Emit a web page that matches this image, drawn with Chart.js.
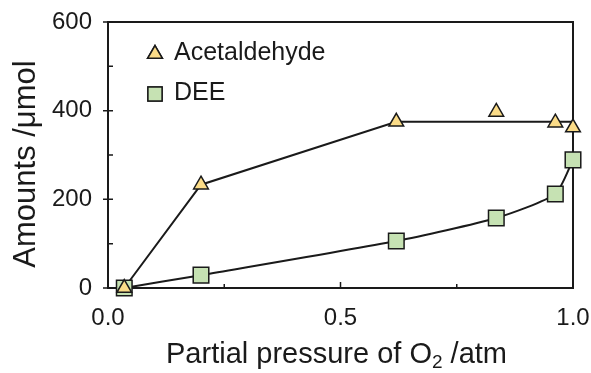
<!DOCTYPE html>
<html>
<head>
<meta charset="utf-8">
<script src="https://cdn.jsdelivr.net/npm/chart.js@4/dist/chart.umd.min.js"></script>
<style>
  html, body { margin: 0; padding: 0; background: #fff; }
  #wrap { width: 591px; height: 373px; }
</style>
</head>
<body>
<div id="wrap"><canvas id="chart"></canvas></div>
<script>
// values
const acetPressure = [0.035, 0.2, 0.62, 0.835, 0.962, 1.0];
const acetAmount = [0, 233, 375, 397, 373, 362];
const acetGuideX = [0.035, 0.2, 0.62, 1.0];
const acetGuideY = [0, 233, 375, 375];
const deePressure = [0.035, 0.2, 0.62, 0.835, 0.962, 1.0];
const deeAmount = [0, 29, 106, 158, 212, 289];
const xTickValues = [0, 0.5, 1.0];
const xMinorValues = [0.25, 0.75];
const yTickValues = [0, 200, 400, 600];
const yMinorValues = [100, 300, 500];

const FONT = '"Liberation Sans", Arial, sans-serif';
const INK = '#1a1a1a';
const YELLOW = '#fbdc88';
const GREEN = '#c6e2b3';

const pts = (xs, ys) => xs.map((x, i) => ({ x: x, y: ys[i] }));

// frame + ticks drawn under the data, titles and legend on top
const framePlugin = {
    id: 'frame',
    beforeDatasetsDraw(chart) {
        const { ctx, chartArea: a, scales } = chart;
        ctx.save();
        ctx.strokeStyle = INK;
        ctx.lineWidth = 2;
        ctx.strokeRect(a.left, a.top, a.right - a.left, a.bottom - a.top);
        ctx.lineWidth = 1.5;
        ctx.beginPath();
        yTickValues.forEach(v => {
            const y = scales.y.getPixelForValue(v);
            ctx.moveTo(a.left - 5, y); ctx.lineTo(a.left + 5, y);
        });
        yMinorValues.forEach(v => {
            const y = scales.y.getPixelForValue(v);
            ctx.moveTo(a.left, y); ctx.lineTo(a.left + 5, y);
        });
        xTickValues.forEach(v => {
            const x = scales.x.getPixelForValue(v);
            ctx.moveTo(x, a.bottom); ctx.lineTo(x, a.bottom - 6);
        });
        xMinorValues.forEach(v => {
            const x = scales.x.getPixelForValue(v);
            ctx.moveTo(x, a.bottom); ctx.lineTo(x, a.bottom - 4);
        });
        ctx.stroke();
        ctx.restore();
    },
    afterDraw(chart) {
        const { ctx, chartArea: a } = chart;
        ctx.save();
        ctx.fillStyle = INK;
        ctx.textBaseline = 'alphabetic';

        // x title with subscript
        const big = '29px ' + FONT, small = '19px ' + FONT;
        const p1 = 'Partial pressure of O', p2 = '2', p3 = ' /atm';
        ctx.font = big;
        const w1 = ctx.measureText(p1).width, w3 = ctx.measureText(p3).width;
        ctx.font = small;
        const w2 = ctx.measureText(p2).width;
        const x = (a.left + a.right) / 2 - (w1 + w2 + w3) / 2 - 4;
        const base = 363;
        ctx.font = big;
        ctx.fillText(p1, x, base);
        ctx.font = small;
        ctx.fillText(p2, x + w1, base + 5);
        ctx.font = big;
        ctx.fillText(p3, x + w1 + w2, base);

        // y title
        ctx.font = '31px ' + FONT;
        ctx.translate(26, 164);
        ctx.rotate(-Math.PI / 2);
        ctx.textAlign = 'center';
        ctx.textBaseline = 'middle';
        ctx.fillText('Amounts /\u03bcmol', 0, 0);
        ctx.restore();

        // legend
        ctx.save();
        ctx.strokeStyle = INK;
        ctx.lineWidth = 1.5;
        const lx = a.left + 47;
        Chart.helpers.drawPoint(ctx, { pointStyle: 'triangle', radius: 8.5, borderWidth: 1.5 }, lx, 54);
        ctx.fillStyle = YELLOW;
        ctx.fill(); ctx.stroke();
        ctx.fillStyle = GREEN;
        Chart.helpers.drawPoint(ctx, { pointStyle: 'rect', radius: 10, borderWidth: 1.5 }, lx, 94);
        ctx.fill(); ctx.stroke();
        ctx.fillStyle = INK;
        ctx.font = '25px ' + FONT;
        ctx.textBaseline = 'middle';
        ctx.fillText('Acetaldehyde', lx + 19, 53);
        ctx.fillText('DEE', lx + 19, 93);
        ctx.restore();
    }
};

const ctx = document.getElementById('chart').getContext('2d');
new Chart(ctx, {
    type: 'scatter',
    data: {
        datasets: [
            {
                label: 'Acetaldehyde',
                data: pts(acetPressure, acetAmount),
                pointStyle: 'triangle',
                pointRadius: 8.5,
                backgroundColor: YELLOW,
                borderColor: INK,
                borderWidth: 1.5,
                clip: false,
                order: 1
            },
            {
                label: 'DEE',
                data: pts(deePressure, deeAmount),
                pointStyle: 'rect',
                pointRadius: 11,
                backgroundColor: GREEN,
                borderColor: INK,
                borderWidth: 1.5,
                clip: false,
                order: 2
            },
            {
                label: 'acet guide',
                data: pts(acetGuideX, acetGuideY),
                showLine: true,
                pointRadius: 0,
                borderColor: INK,
                borderWidth: 2,
                clip: false,
                order: 3
            },
            {
                label: 'dee guide',
                data: pts(deePressure, deeAmount),
                showLine: true,
                pointRadius: 0,
                borderColor: INK,
                borderWidth: 2,
                tension: 0.2,
                clip: false,
                order: 4
            }
        ]
    },
    options: {
        responsive: true,
        maintainAspectRatio: false,
        animation: false,
        layout: { padding: { top: 22, right: 18, left: 0, bottom: 0 } },
        scales: {
            x: {
                type: 'linear',
                min: 0,
                max: 1,
                afterBuildTicks: s => { s.ticks = xTickValues.map(v => ({ value: v })); },
                afterFit: s => { s.height = 85; s.paddingLeft = 0; s.paddingRight = 0; },
                grid: { display: false },
                border: { display: false },
                ticks: {
                    color: INK,
                    padding: 8,
                    font: { family: FONT, size: 24 },
                    callback: v => v.toFixed(1)
                }
            },
            y: {
                min: 0,
                max: 600,
                afterBuildTicks: s => { s.ticks = yTickValues.map(v => ({ value: v })); },
                afterFit: s => { s.width = 108; s.paddingTop = 0; s.paddingBottom = 0; },
                grid: { display: false },
                border: { display: false },
                ticks: {
                    color: INK,
                    padding: 8,
                    font: { family: FONT, size: 24 }
                }
            }
        },
        plugins: {
            legend: { display: false },
            tooltip: { enabled: false }
        }
    },
    plugins: [framePlugin]
});
</script>
</body>
</html>
